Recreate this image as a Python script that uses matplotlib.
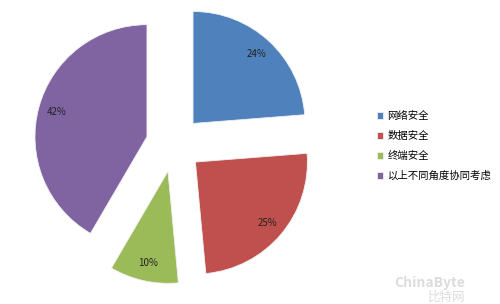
import matplotlib
matplotlib.use("Agg")
import matplotlib.pyplot as plt

plt.rcParams['font.family'] = ['Noto Sans CJK SC', 'DejaVu Sans']

categories = ["网络安全", "数据安全", "终端安全", "以上不同角度协同考虑"]
values = [24, 25, 10, 42]
colors = ["#4F81BD", "#C0504D", "#9BBB59", "#8064A2"]

W, H = 500, 304
fig = plt.figure(figsize=(W / 100, H / 100), dpi=100)
cx, cy, r = 174, 144, 112
half = 150
ax = fig.add_axes([(cx - half) / W, (H - cy - half) / H, 2 * half / W, 2 * half / H])

it = iter(values)
wedges, texts, autotexts = ax.pie(
    values, colors=colors, startangle=90, counterclock=False,
    explode=[0.25] * len(values), radius=1.0,
    autopct=lambda p: f"{next(it)}%", pctdistance=0.84,
    wedgeprops=dict(edgecolor="#f0f0f0", linewidth=0.6),
    textprops=dict(fontsize=7, color="#222222"),
)
lim = half / r
ax.set_xlim(-lim, lim)
ax.set_ylim(-lim, lim)
ax.set_aspect('auto')
ax.axis('off')

fig.legend(wedges, categories, loc="upper left", bbox_to_anchor=(372 / W, 1 - 106 / H),
           frameon=False, fontsize=7.5, handlelength=0.6, handleheight=0.6,
           handletextpad=0.4, labelspacing=0.95, borderpad=0)

fig.text(0.93, 0.045, "ChinaByte", fontsize=10, color="#dcdcdc", ha="right", va="bottom",
         fontweight="bold")
fig.text(0.93, 0.0, "比特网", fontsize=9, color="#dcdcdc", ha="right", va="bottom")

fig.savefig("out.png", dpi=100)
